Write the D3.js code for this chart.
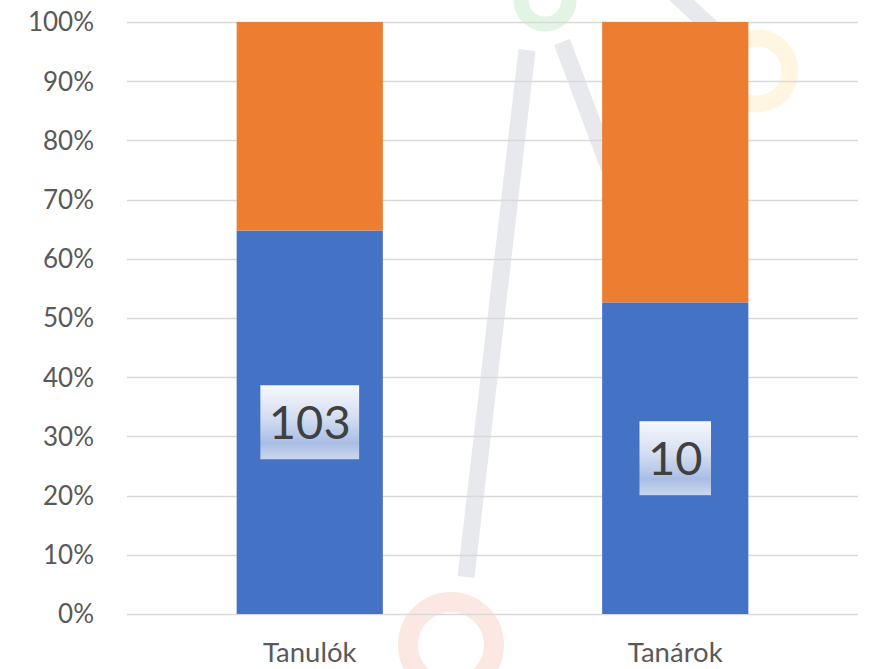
<!DOCTYPE html>
<html>

<head>
    <meta charset="utf-8">
    <style>
        body {
            margin: 0;
            background: #fff;
        }

        .grid line {
            stroke: #d9d9d9;
            stroke-width: 1.4px;
        }

        .tick-label {
            font-family: Lato, "Liberation Sans", sans-serif;
            font-size: 26px;
            fill: #595959;
        }

        .data-label {
            font-family: Lato, "Liberation Sans", sans-serif;
            font-size: 47px;
            fill: #404040;
        }
    </style>
</head>

<body>
    <script src="https://cdn.jsdelivr.net/npm/d3@7"></script>
    <script>
        var width = 871,
            height = 669;

        // data
        var categories = ["Tanulók", "Tanárok"];
        var seriesKeys = ["igen", "nem"];
        var igen = [103, 10];
        var nem = [56, 9];
        var yTicks = [0, 0.1, 0.2, 0.3, 0.4, 0.5, 0.6, 0.7, 0.8, 0.9, 1];
        var colors = ["#4472c4", "#ed7d31"];

        var rows = categories.map(function(c, i) {
            return { cat: c, igen: igen[i], nem: nem[i] };
        });

        var margin = { top: 22, right: 13, bottom: 55, left: 127 };

        var x = d3.scaleBand()
            .domain(categories)
            .range([margin.left, width - margin.right])
            .paddingInner(0.6)
            .paddingOuter(0.3);

        var y = d3.scaleLinear()
            .domain([0, 1])
            .range([height - margin.bottom, margin.top]);

        var svg = d3.select("body").append("svg")
            .attr("width", width)
            .attr("height", height);

        var defs = svg.append("defs");
        var grad = defs.append("linearGradient")
            .attr("id", "labelFill")
            .attr("x1", 0).attr("y1", 0)
            .attr("x2", 0).attr("y2", 1);
        grad.append("stop").attr("offset", "0%").attr("stop-color", "#f6f8fd");
        grad.append("stop").attr("offset", "45%").attr("stop-color", "#d3ddf1");
        grad.append("stop").attr("offset", "78%").attr("stop-color", "#a9bde4");
        grad.append("stop").attr("offset", "100%").attr("stop-color", "#cad7ef");

        // faint watermark behind the chart
        var mark = svg.append("g").attr("class", "watermark");
        mark.append("line")
            .attr("x1", 527).attr("y1", 50).attr("x2", 466).attr("y2", 577)
            .attr("stroke", "#e7e9ed").attr("stroke-width", 17);
        mark.append("line")
            .attr("x1", 562).attr("y1", 42).attr("x2", 640).attr("y2", 250)
            .attr("stroke", "#e7e9ed").attr("stroke-width", 17);
        mark.append("line")
            .attr("x1", 660).attr("y1", -20).attr("x2", 730).attr("y2", 45)
            .attr("stroke", "#e7e9ed").attr("stroke-width", 17);
        mark.append("circle")
            .attr("cx", 545).attr("cy", 0).attr("r", 24)
            .attr("fill", "none").attr("stroke", "#e2f4e4").attr("stroke-width", 15);
        mark.append("circle")
            .attr("cx", 757).attr("cy", 71).attr("r", 33)
            .attr("fill", "none").attr("stroke", "#fff6e2").attr("stroke-width", 17);
        mark.append("circle")
            .attr("cx", 451).attr("cy", 645).attr("r", 43)
            .attr("fill", "none").attr("stroke", "#fce8e3").attr("stroke-width", 20);

        // gridlines
        svg.append("g")
            .attr("class", "grid")
            .selectAll("line")
            .data(yTicks)
            .enter().append("line")
            .attr("x1", margin.left)
            .attr("x2", width - margin.right)
            .attr("y1", function(d) { return Math.round(y(d)) + 0.5; })
            .attr("y2", function(d) { return Math.round(y(d)) + 0.5; });

        svg.append("g")
            .selectAll("text")
            .data(yTicks)
            .enter().append("text")
            .attr("class", "tick-label")
            .attr("x", 94)
            .attr("y", function(d) { return y(d); })
            .attr("dy", "0.36em")
            .attr("text-anchor", "end")
            .text(d3.format(".0%"));

        // stacked 100% bars
        var stack = d3.stack()
            .keys(seriesKeys)
            .offset(d3.stackOffsetExpand);
        var layers = stack(rows);

        svg.append("g")
            .selectAll("g")
            .data(layers)
            .enter().append("g")
            .attr("fill", function(d, i) { return colors[i]; })
            .selectAll("rect")
            .data(function(d) { return d; })
            .enter().append("rect")
            .attr("x", function(d) { return x(d.data.cat); })
            .attr("width", x.bandwidth())
            .attr("y", function(d) { return y(d[1]); })
            .attr("height", function(d) { return y(d[0]) - y(d[1]); });

        // category labels (sit right at the bottom edge, as in the original)
        svg.append("g")
            .selectAll("text")
            .data(categories)
            .enter().append("text")
            .attr("class", "tick-label")
            .style("font-size", "27.5px")
            .attr("x", function(d) { return x(d) + x.bandwidth() / 2; })
            .attr("y", height - margin.bottom + 48)
            .attr("text-anchor", "middle")
            .text(function(d) { return d; });

        // value labels on the blue segments
        var labels = svg.append("g")
            .selectAll("g")
            .data(layers[0])
            .enter().append("g")
            .attr("transform", function(d) {
                var cx = x(d.data.cat) + x.bandwidth() / 2,
                    cy = (y(d[0]) + y(d[1])) / 2;
                return "translate(" + cx + "," + cy + ")";
            });

        labels.append("rect").attr("fill", "url(#labelFill)");
        labels.append("text")
            .attr("class", "data-label")
            .attr("text-anchor", "middle")
            .attr("dy", "0.36em")
            .text(function(d) { return d.data.igen; });

        labels.each(function() {
            var g = d3.select(this),
                w = g.select("text").node().getComputedTextLength() + 17,
                h = 74;
            g.select("rect")
                .attr("x", -w / 2)
                .attr("y", -h / 2)
                .attr("width", w)
                .attr("height", h);
        });
    </script>
</body>

</html>
